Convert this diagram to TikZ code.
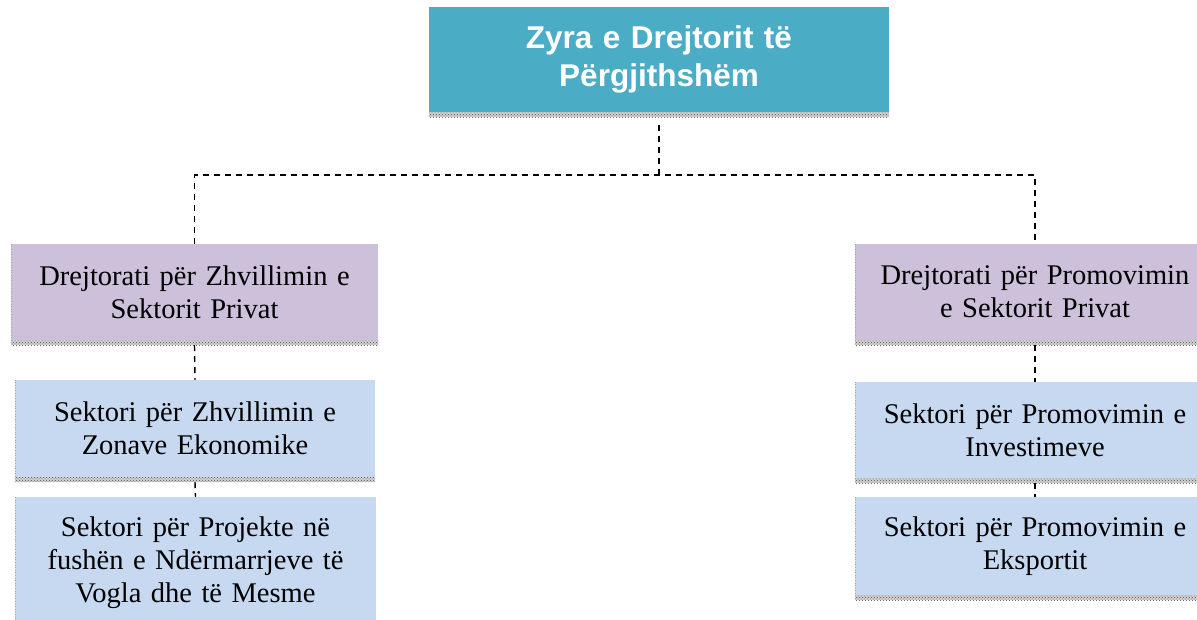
\documentclass[tikz,border=0pt]{standalone}
\usepackage{fontspec}
\setmainfont{Liberation Serif}
\newfontfamily\titlefont{Liberation Sans}
\usetikzlibrary{patterns}
\definecolor{topc}{HTML}{4BACC6}
\definecolor{dirc}{HTML}{CCC0DA}
\definecolor{secc}{HTML}{C6D9F1}
\tikzset{
  boxbase/.style={inner sep=0pt, align=center, anchor=center},
  topbox/.style={boxbase, fill=topc, text=white, font=\titlefont\fontsize{31.5}{38}\selectfont\bfseries},
  dirbox/.style={boxbase, fill=dirc, font=\fontsize{28.5}{33}\selectfont},
  secbox/.style={boxbase, fill=secc, font=\fontsize{28.5}{33}\selectfont},
  band/.style={preaction={fill=gray!35}, pattern=crosshatch dots, pattern color=gray!60!black},
  edge/.style={draw=gray!70, dotted, line width=0.6pt},
  conn/.style={draw=black, line width=1.4pt, dash pattern=on 6pt off 5pt}
}
\begin{document}
\begin{tikzpicture}[x=1pt,y=-1pt]
\useasboundingbox (0,0) rectangle (1197,620);
\clip (0,0) rectangle (1197,620);
% nodes
\node[topbox, minimum width=460, minimum height=105, text width=450] (top) at (659,59.5) {Zyra e Drejtorit të\\Përgjithshëm};
\node[dirbox, minimum width=367, minimum height=96, text width=364] (ld) at (194.5,292) {Drejtorati për Zhvillimin e\\Sektorit Privat};
\node[secbox, minimum width=360, minimum height=97, text width=356] (ls1) at (195,428.5) {Sektori për Zhvillimin e\\Zonave Ekonomike};
\node[secbox, minimum width=361, minimum height=131, text width=356, anchor=north] (ls2) at (195.5,497) {Sektori për Projekte në\\fushën e Ndërmarrjeve të\\Vogla dhe të Mesme\\[4pt]};
\node[dirbox, minimum width=360, minimum height=96, text width=356] (rd) at (1035,292) {Drejtorati për Promovimin\\e Sektorit Privat};
\node[secbox, minimum width=360, minimum height=96, text width=356] (rs1) at (1035,430) {Sektori për Promovimin e\\Investimeve};
\node[secbox, minimum width=360, minimum height=98, text width=356] (rs2) at (1035,546) {Sektori për Promovimin e\\Eksportit};
% shadow bands
\foreach \n in {top,ld,ls1,ls2,rd,rs1,rs2}{
  \path[band] (\n.south west) rectangle ([yshift=-5pt]\n.south east);
}
\foreach \n in {ld,ls1,ls2,rd,rs1,rs2}{
  \draw[edge] (\n.north west) -- (\n.south west);
}
% connectors
\coordinate (bus) at (659,175);
\draw[conn] ([yshift=-13pt]top.south) -- (bus);
\draw[conn] (ld.north) |- (bus) -| (rd.north);
\draw[conn] ([yshift=-5pt]ld.south) -- (ls1.north);
\draw[conn] ([yshift=-5pt]ls1.south) -- (ls2.north);
\draw[conn] ([yshift=-5pt]rd.south) -- (rs1.north);
\draw[conn] ([yshift=-5pt]rs1.south) -- (rs2.north);
\end{tikzpicture}
\end{document}
